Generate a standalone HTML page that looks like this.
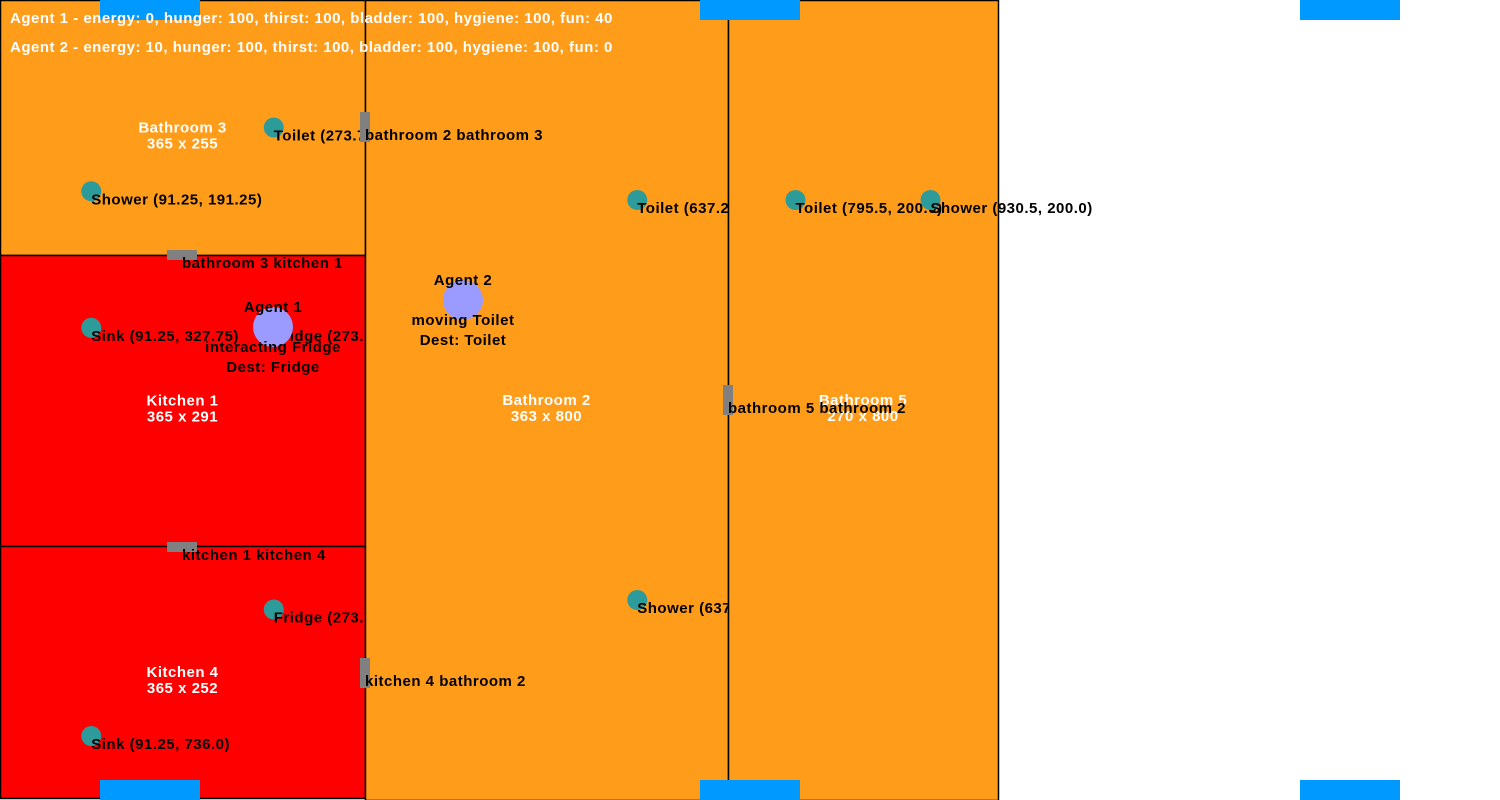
<!DOCTYPE html>
<html><head><meta charset="utf-8"><style>
html,body{margin:0;padding:0;background:#fff;}
svg{display:block;font-family:"Liberation Sans",Arial,sans-serif;font-weight:bold;letter-spacing:0.5px;}
</style></head><body>
<svg id="map" width="1500" height="800" viewBox="0 0 1500 800"></svg>
<script>
const roomNames=["Bathroom 3","Kitchen 1","Kitchen 4","Bathroom 2","Bathroom 5"];
const roomRects=[[0,0,365,255],[0,255,365,291],[0,546,365,252],[365,0,363,800],[728,0,270,800]];
const roomColors=["#ff9c1a","#ff0000","#ff0000","#ff9c1a","#ff9c1a"];
const fixtureRoom=[0,0,1,1,2,2,3,3,4,4];
const fixtureNames=["Toilet","Shower","Sink","Fridge","Fridge","Sink","Toilet","Shower","Toilet","Shower"];
const fixtureXY=[[273.75,127.5],[91.25,191.25],[91.25,327.75],[273.75,327.75],[273.75,609.5],[91.25,736.0],[637.25,200.0],[637.25,600.0],[795.5,200.0],[930.5,200.0]];
const doorLabels=["bathroom 3 kitchen 1","bathroom 2 bathroom 3","kitchen 1 kitchen 4","kitchen 4 bathroom 2","bathroom 5 bathroom 2"];
const doorXY=[[182,255,"h"],[365,127,"v"],[182,547,"h"],[365,673,"v"],[728,400,"v"]];
const windowXY=[[100,0],[700,0],[1300,0],[100,780],[700,780],[1300,780]];
const agentNames=["Agent 1","Agent 2"];
const agentXY=[[273,327],[463,300]];
const agentStatus=["interacting Fridge","moving Toilet"];
const agentDest=["Fridge","Toilet"];
const agentStats=["Agent 1 - energy: 0, hunger: 100, thirst: 100, bladder: 100, hygiene: 100, fun: 40","Agent 2 - energy: 10, hunger: 100, thirst: 100, bladder: 100, hygiene: 100, fun: 0"];
const svg=document.getElementById('map');
const NS="http://www.w3.org/2000/svg";
function mk(tag,attrs,txt){const e=document.createElementNS(NS,tag);for(const k in attrs)e.setAttribute(k,attrs[k]);if(txt!==undefined)e.textContent=txt;svg.appendChild(e);return e;}
function fmt(v){return Number.isInteger(v)?v.toFixed(1):String(v);}
roomRects.forEach((r,i)=>{
  const el=mk('rect',{x:r[0]+0.5,y:r[1]+0.5,width:r[2],height:r[3],fill:roomColors[i],stroke:'#000','stroke-width':1.5});
  
  
  const cx=r[0]+r[2]/2, cy=r[1]+r[3]/2;
  const t1=mk('text',{x:cx,y:cy+5,'text-anchor':'middle',fill:'#fff','font-size':15},roomNames[i]);
  
  
  const t2=mk('text',{x:cx,y:cy+21,'text-anchor':'middle',fill:'#fff','font-size':15},r[2]+' x '+r[3]);
  
  
  fixtureRoom.forEach((ri,j)=>{
    if(ri!==i)return;
    const [fx,fy]=fixtureXY[j];
    const c=mk('circle',{cx:fx,cy:fy,r:10,fill:'#2e9b9b'});
    
    
    const t=mk('text',{x:fx,y:fy+13,fill:'#000','font-size':15},fixtureNames[j]+' ('+fmt(fx)+', '+fmt(fy)+')');
    
    
  });
});
doorXY.forEach((d,i)=>{
  const w=d[2]==='h'?30:10, h=d[2]==='h'?10:30;
  const r=mk('rect',{x:d[0]-w/2,y:d[1]-h/2,width:w,height:h,fill:'#808080'});
  
  
  const t=mk('text',{x:d[0],y:d[1]+13,fill:'#000','font-size':15},doorLabels[i]);
  
  
});
windowXY.forEach(w=>{
  const r=mk('rect',{x:w[0],y:w[1],width:100,height:20,fill:'#0099ff'});
  
  
});
agentXY.forEach((a,i)=>{
  const c=mk('circle',{cx:a[0],cy:a[1],r:20,fill:'#9b9bff'});
  
  
  const t1=mk('text',{x:a[0],y:a[1]-15,'text-anchor':'middle',fill:'#000','font-size':15},agentNames[i]);
  
  
  const t2=mk('text',{x:a[0],y:a[1]+25,'text-anchor':'middle',fill:'#000','font-size':15},agentStatus[i]);
  
  
  const t3=mk('text',{x:a[0],y:a[1]+45,'text-anchor':'middle',fill:'#000','font-size':15},'Dest: '+agentDest[i]);
  
  
});
agentStats.forEach((s,i)=>{
  const t=mk('text',{x:10,y:23+i*29,fill:'#fff','font-size':15},s);
  
  
});
</script>
</body></html>
